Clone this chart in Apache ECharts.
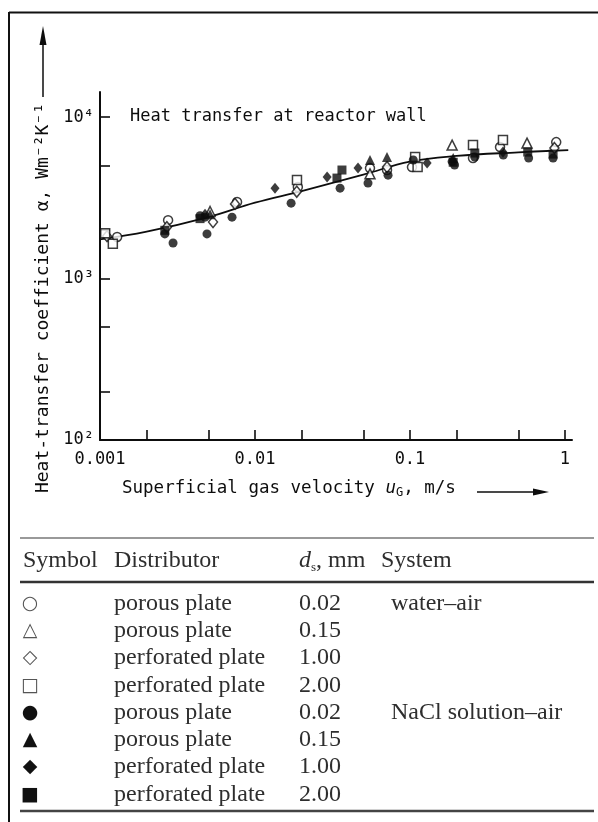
<!DOCTYPE html>
<html>
<head>
<meta charset="utf-8">
<script src="https://cdn.jsdelivr.net/npm/echarts@6/dist/echarts.min.js"></script>
<style>
  html, body { margin: 0; padding: 0; background: #fff; }
  #chart { width: 598px; height: 822px; }
</style>
</head>
<body>
<div id="chart"></div>
<script>
// Axis ticks and labels
const xTickValues = [0.001, 0.002, 0.005, 0.01, 0.02, 0.05, 0.1, 0.2, 0.5, 1];
const xLabelValues = [0.001, 0.01, 0.1, 1];
const xLabelTexts = ['0.001', '0.01', '0.1', '1'];
const yTickValues = [100, 200, 500, 1000, 2000, 5000, 10000];
const yLabelValues = [100, 1000, 10000];
const yLabelTexts = ['10²', '10³', '10⁴'];

// Correlation curve: [u_G (m/s), alpha (W m^-2 K^-1)]
const curve = [[0.001, 1750], [0.002, 1950], [0.005, 2400], [0.01, 2950], [0.02, 3480],
  [0.05, 4400], [0.1, 5300], [0.2, 5750], [0.5, 6050], [1.05, 6250]];

// Measurements, water–air
const waterPorous002 = [[0.00129, 1810], [0.00275, 2300], [0.0189, 3690], [0.0552, 4830], [0.103, 4900],
  [0.0711, 4700], [0.255, 5570], [0.381, 6520], [0.878, 7000], [0.00766, 2980]];
const waterPorous015 = [[0.187, 6710], [0.569, 6900], [0.00513, 2600], [0.0552, 4450]];
const waterPerf100 = [[0.00111, 1830], [0.00270, 2080], [0.00536, 2240], [0.00743, 2900], [0.0711, 4900],
  [0.855, 6430], [0.0186, 3450]];
const waterPerf200 = [[0.00108, 1910], [0.00121, 1640], [0.01866, 4070], [0.108, 5650], [0.112, 4900],
  [0.255, 6710], [0.398, 7210]];

// Measurements, NaCl solution–air
const saltPorous002 = [[0.00262, 1890], [0.00296, 1660], [0.00490, 1890], [0.00476, 2400], [0.00711, 2400],
  [0.0171, 2930], [0.0354, 3630], [0.0536, 3900], [0.0722, 4370], [0.194, 5050], [0.583, 5570],
  [0.838, 5570], [0.00442, 2450], [0.105, 5420], [0.262, 5650], [0.40, 5820], [0.187, 5300]];
const saltPorous015 = [[0.0552, 5420], [0.0711, 5650], [0.190, 5570], [0.00513, 2500]];
const saltPerf100 = [[0.01346, 3630], [0.0292, 4250], [0.0462, 4830], [0.129, 5190], [0.398, 6070], [0.00476, 2500]];
const saltPerf200 = [[0.00262, 1990], [0.0338, 4190], [0.0364, 4700], [0.262, 5990], [0.575, 6070],
  [0.190, 5250], [0.00442, 2350], [0.838, 5900]];

// Legend table contents
const tableHeader = ['Symbol', 'Distributor', 'System'];
const tableSymbols = ['○', '△', '◇', '□', '●', '▲', '◆', '■'];
const tableDistributors = ['porous plate', 'porous plate', 'perforated plate', 'perforated plate',
  'porous plate', 'porous plate', 'perforated plate', 'perforated plate'];
const tableDiameters = ['0.02', '0.15', '1.00', '2.00', '0.02', '0.15', '1.00', '2.00'];
const tableSystems = ['water–air', '', '', '', 'NaCl solution–air', '', '', ''];

const INK = '#0d0d0d';
const MONO = '"DejaVu Sans Mono", monospace';
const SERIF = '"Liberation Serif", "DejaVu Serif", serif';
const TABLE_INK = '#2e2e2e';
const TABLE_FONT = '24px ' + SERIF;

function hollow(name, data, symbol, size) {
  return {
    name, type: 'scatter', data, symbol, symbolSize: size, z: 3,
    itemStyle: { color: '#fff', borderColor: INK, borderWidth: 1.5 }
  };
}
function filled(name, data, symbol, size) {
  return {
    name, type: 'scatter', data, symbol, symbolSize: size, z: 4,
    itemStyle: { color: INK }
  };
}

const rowY = [604, 631, 658, 686, 713, 740, 767, 795];
const headerY = 561;
const colX = { symbol: 30, distributor: 114, diameter: 299, system: 391 };
const tableGraphics = [];
tableGraphics.push({ type: 'text', style: { text: tableHeader[0], x: 23, y: headerY, font: TABLE_FONT, fill: TABLE_INK, verticalAlign: 'middle' } });
tableGraphics.push({ type: 'text', style: { text: tableHeader[1], x: colX.distributor, y: headerY, font: TABLE_FONT, fill: TABLE_INK, verticalAlign: 'middle' } });
tableGraphics.push({
  type: 'text', style: {
    text: '{it|d}{sub|s}, mm', x: colX.diameter, y: headerY, font: TABLE_FONT, fill: TABLE_INK, verticalAlign: 'middle', lineHeight: 26,
    rich: { it: { fontStyle: 'italic', fontSize: 24, fontFamily: SERIF, lineHeight: 26 },
            sub: { fontSize: 13, fontFamily: SERIF, lineHeight: 13, verticalAlign: 'bottom' } }
  }
});
tableGraphics.push({ type: 'text', style: { text: tableHeader[2], x: 381, y: headerY, font: TABLE_FONT, fill: TABLE_INK, verticalAlign: 'middle' } });
for (let i = 0; i < rowY.length; i++) {
  tableGraphics.push({ type: 'text', style: { text: tableSymbols[i], x: colX.symbol, y: rowY[i], font: '19px "DejaVu Sans", sans-serif', fill: i < 4 ? '#555' : '#111', align: 'center', verticalAlign: 'middle' } });
  tableGraphics.push({ type: 'text', style: { text: tableDistributors[i], x: colX.distributor, y: rowY[i], font: TABLE_FONT, fill: TABLE_INK, verticalAlign: 'middle' } });
  tableGraphics.push({ type: 'text', style: { text: tableDiameters[i], x: colX.diameter, y: rowY[i], font: TABLE_FONT, fill: TABLE_INK, verticalAlign: 'middle' } });
  if (tableSystems[i]) {
    tableGraphics.push({ type: 'text', style: { text: tableSystems[i], x: colX.system, y: rowY[i], font: TABLE_FONT, fill: TABLE_INK, verticalAlign: 'middle' } });
  }
}

const chart = echarts.init(document.getElementById('chart'), null, { renderer: 'canvas' });
chart.setOption({
  animation: false,
  backgroundColor: '#fff',
  grid: { left: 100, right: 26, top: 92, bottom: 382 },
  xAxis: {
    type: 'log', min: 0.001, max: 1.11, logBase: 10,
    axisLine: { lineStyle: { color: INK, width: 2 } },
    axisTick: { inside: true, length: 10, lineStyle: { color: INK, width: 1.6 }, customValues: xTickValues },
    axisLabel: {
      customValues: xLabelValues, margin: 11, color: INK, fontFamily: MONO, fontSize: 17,
      formatter: v => { const i = xLabelValues.findIndex(t => Math.abs(Math.log10(t) - Math.log10(v)) < 1e-6); return i >= 0 ? xLabelTexts[i] : ''; }
    },
    splitLine: { show: false }, minorTick: { show: false }
  },
  yAxis: {
    type: 'log', min: 100, max: 14300, logBase: 10,
    axisLine: { lineStyle: { color: INK, width: 2 } },
    axisTick: { inside: true, length: 10, lineStyle: { color: INK, width: 1.6 }, customValues: yTickValues },
    axisLabel: {
      customValues: yLabelValues, margin: 6, color: INK, fontFamily: MONO, fontSize: 17,
      formatter: v => { const i = yLabelValues.findIndex(t => Math.abs(Math.log10(t) - Math.log10(v)) < 1e-6); return i >= 0 ? yLabelTexts[i] : ''; }
    },
    splitLine: { show: false }, minorTick: { show: false }
  },
  series: [
    { name: 'correlation', type: 'line', data: curve, smooth: 0.4, symbol: 'none', z: 2,
      lineStyle: { color: INK, width: 1.8 } },
    hollow('○ porous plate 0.02', waterPorous002, 'circle', 9),
    hollow('△ porous plate 0.15', waterPorous015, 'triangle', 10),
    hollow('◇ perforated plate 1.00', waterPerf100, 'diamond', [9, 11]),
    hollow('□ perforated plate 2.00', waterPerf200, 'rect', 9),
    filled('● porous plate 0.02', saltPorous002, 'circle', 9),
    filled('▲ porous plate 0.15', saltPorous015, 'triangle', 10),
    filled('◆ perforated plate 1.00', saltPerf100, 'diamond', [9, 11]),
    filled('■ perforated plate 2.00', saltPerf200, 'rect', 9)
  ],
  graphic: [
    // frame
    { type: 'line', shape: { x1: 9, y1: 12.5, x2: 598, y2: 12.5 }, style: { stroke: '#111', lineWidth: 2 } },
    { type: 'line', shape: { x1: 9, y1: 12, x2: 9, y2: 822 }, style: { stroke: '#111', lineWidth: 2 } },
    // annotation
    { type: 'text', style: { text: 'Heat transfer at reactor wall', x: 130, y: 117, font: '17px ' + MONO, fill: INK, verticalAlign: 'middle' } },
    // y axis title with arrow
    { type: 'text', rotation: Math.PI / 2, x: 43, y: 298,
      style: { text: 'Heat-transfer coefficient α, Wm⁻²K⁻¹', x: 0, y: 0, font: '18px ' + MONO, fill: INK, align: 'center', verticalAlign: 'middle' } },
    { type: 'line', shape: { x1: 43, y1: 97, x2: 43, y2: 40 }, style: { stroke: INK, lineWidth: 1.5 } },
    { type: 'polygon', shape: { points: [[43, 26], [39.5, 45], [46.5, 45]] }, style: { fill: INK } },
    // x axis title with arrow
    { type: 'text', style: {
        text: 'Superficial gas velocity {it|u}{sub|G}, m/s', x: 122, y: 488, font: '17.5px ' + MONO, fill: INK,
        verticalAlign: 'middle', lineHeight: 22,
        rich: { it: { fontStyle: 'italic', fontSize: 17.5, fontFamily: MONO, lineHeight: 22 },
                sub: { fontSize: 12, fontFamily: MONO, lineHeight: 12, verticalAlign: 'bottom' } } } },
    { type: 'line', shape: { x1: 477, y1: 492, x2: 536, y2: 492 }, style: { stroke: INK, lineWidth: 1.5 } },
    { type: 'polygon', shape: { points: [[549, 492], [533, 488.5], [533, 495.5]] }, style: { fill: INK } },
    // table rules
    { type: 'line', shape: { x1: 20, y1: 538, x2: 594, y2: 538 }, style: { stroke: '#777', lineWidth: 1.5 } },
    { type: 'line', shape: { x1: 20, y1: 582, x2: 594, y2: 582 }, style: { stroke: '#333', lineWidth: 2.5 } },
    { type: 'line', shape: { x1: 20, y1: 811, x2: 594, y2: 811 }, style: { stroke: '#444', lineWidth: 2.5 } },
    ...tableGraphics
  ]
});
</script>
</body>
</html>
